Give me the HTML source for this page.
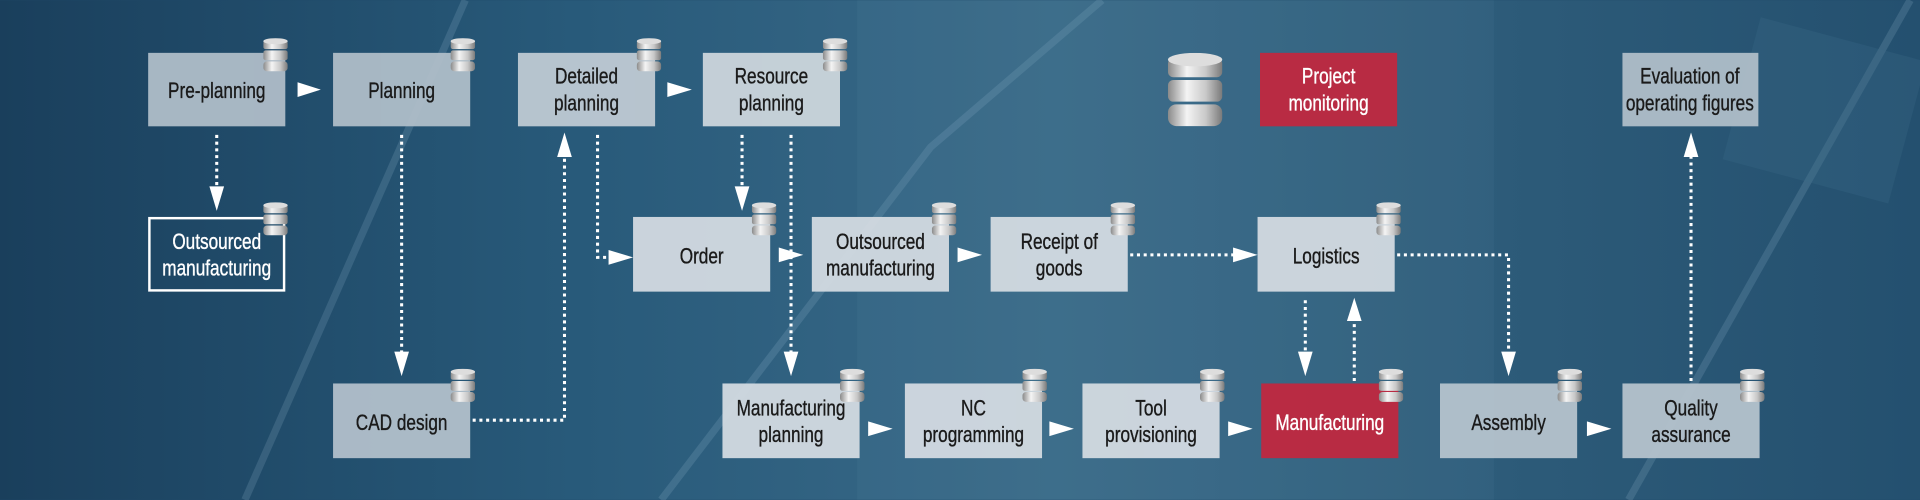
<!DOCTYPE html>
<html><head><meta charset="utf-8"><style>
html,body{margin:0;padding:0;width:1920px;height:500px;overflow:hidden;background:#1f4868}
svg{display:block}
text{font-family:"Liberation Sans",sans-serif;font-size:18px;text-anchor:middle;fill:#1a1a1a;stroke:#1a1a1a;stroke-width:0.3;transform-box:fill-box;transform-origin:center;transform:scaleX(0.78)}
text.w{fill:#fff;stroke:#fff}
</style></head><body>
<svg width="1920" height="500" viewBox="0 0 1568 408" xmlns="http://www.w3.org/2000/svg">
<defs>
<linearGradient id="bg" x1="0" y1="0" x2="1" y2="0">
<stop offset="0" stop-color="#1a3f5c"/><stop offset="0.3" stop-color="#285a7a"/>
<stop offset="0.55" stop-color="#3a6a88"/><stop offset="0.8" stop-color="#2c5a78"/><stop offset="1" stop-color="#24506f"/>
</linearGradient>
<linearGradient id="cyl" x1="0" y1="0" x2="1" y2="0">
<stop offset="0" stop-color="#8a8a8a"/><stop offset="0.35" stop-color="#f4f4f4"/><stop offset="0.7" stop-color="#c8c8c8"/><stop offset="1" stop-color="#7a7a7a"/>
</linearGradient>
<symbol id="db" viewBox="0 0 20 28">
<rect x="0" y="2" width="20" height="7" rx="2" fill="url(#cyl)"/>
<ellipse cx="10" cy="2.5" rx="10" ry="2.5" fill="#ddd"/>
<rect x="0" y="10" width="20" height="8" rx="2" fill="url(#cyl)"/>
<rect x="0" y="19" width="20" height="8" rx="3" fill="url(#cyl)"/>
</symbol>
</defs>
<rect width="1568" height="408" fill="url(#bg)"/>
<g opacity="0.18" fill="none" stroke="#9fc0d6" stroke-width="6">
<path d="M200 408 L380 0"/><path d="M540 408 L760 120 L900 0"/><path d="M1330 408 L1560 0"/>
</g>
<rect x="700" y="0" width="520" height="408" fill="#5a8aa6" opacity="0.12"/>
<rect x="1420" y="30" width="140" height="120" fill="#3a6a88" opacity="0.3" transform="rotate(15 1490 90)"/>

<g fill="#b2bfca" opacity="0.93">
<rect x="121" y="43" width="112" height="60"/><rect x="272" y="43" width="112" height="60"/>
<rect x="423" y="43" width="112" height="60" fill="#c2ccd5"/><rect x="574" y="43" width="112" height="60" fill="#d0d8de"/>
<rect x="1325" y="43" width="111" height="60"/>
</g>
<g fill="#d6dde3" opacity="0.93">
<rect x="517" y="177" width="112" height="61"/><rect x="663" y="177" width="112" height="61"/>
<rect x="809" y="177" width="112" height="61"/><rect x="1027" y="177" width="112" height="61"/>
<rect x="272" y="313" width="112" height="61" fill="#b5c2cc"/><rect x="590" y="313" width="112" height="61"/>
<rect x="739" y="313" width="112" height="61"/><rect x="884" y="313" width="112" height="61"/>
<rect x="1176" y="313" width="112" height="61" fill="#b8c5cf"/><rect x="1325" y="313" width="112" height="61" fill="#b8c5cf"/>
</g>
<rect x="122" y="178" width="110" height="59" fill="none" stroke="#fff" stroke-width="2"/>
<rect x="1029" y="43" width="112" height="60" fill="#c0283f" opacity="0.95"/>
<rect x="1030" y="313" width="112" height="61" fill="#c0283f" opacity="0.95"/>

<g fill="#fff">
<path d="M243 67 L262 73 L243 79Z"/><path d="M545 67 L565 73 L545 79Z"/>
<path d="M636 202 L656 208 L636 214Z"/><path d="M782 202 L802 208 L782 214Z"/>
<path d="M709 344 L729 350 L709 356Z"/><path d="M857 344 L877 350 L857 356Z"/>
<path d="M1003 344 L1023 350 L1003 356Z"/><path d="M1296 344 L1316 350 L1296 356Z"/>
<path d="M171 152 L177 172 L183 152Z"/><path d="M322 287 L328 307 L334 287Z"/>
<path d="M455 128 L461 108 L467 128Z"/><path d="M497 204 L517 210 L497 216Z"/>
<path d="M600 152 L606 172 L612 152Z"/><path d="M640 287 L646 307 L652 287Z"/>
<path d="M1007 202 L1027 208 L1007 214Z"/><path d="M1060 287 L1066 307 L1072 287Z"/>
<path d="M1100 262 L1106 243 L1112 262Z"/><path d="M1226 287 L1232 307 L1238 287Z"/>
<path d="M1375 128 L1381 108 L1387 128Z"/>
</g>
<g fill="none" stroke="#fff" stroke-width="2.5" stroke-dasharray="2.5 3">
<path d="M177 110 V153"/><path d="M328 110 V288"/>
<path d="M386 343 H461 V128"/><path d="M488 110 V210 H498"/>
<path d="M606 110 V153"/><path d="M646 110 V288"/>
<path d="M923 208 H1008"/><path d="M1066 245 V288"/><path d="M1106 311 V262"/>
<path d="M1141 208 H1232 V288"/><path d="M1381 311 V128"/>
</g>

<g>
<use href="#db" x="215" y="31" width="20" height="28"/><use href="#db" x="368" y="31" width="20" height="28"/>
<use href="#db" x="520" y="31" width="20" height="28"/><use href="#db" x="672" y="31" width="20" height="28"/>
<use href="#db" x="215" y="165" width="20" height="28"/><use href="#db" x="614" y="165" width="20" height="28"/>
<use href="#db" x="761" y="165" width="20" height="28"/><use href="#db" x="907" y="165" width="20" height="28"/>
<use href="#db" x="1124" y="165" width="20" height="28"/>
<use href="#db" x="368" y="301" width="20" height="28"/><use href="#db" x="686" y="301" width="20" height="28"/>
<use href="#db" x="835" y="301" width="20" height="28"/><use href="#db" x="980" y="301" width="20" height="28"/>
<use href="#db" x="1126" y="301" width="20" height="28"/><use href="#db" x="1272" y="301" width="20" height="28"/>
<use href="#db" x="1421" y="301" width="20" height="28"/>
<use href="#db" x="952" y="43" width="48" height="62"/>
</g>

<text x="177" y="80">Pre-planning</text>
<text x="328" y="80">Planning</text>
<text x="479" y="68">Detailed</text><text x="479" y="90">planning</text>
<text x="630" y="68">Resource</text><text x="630" y="90">planning</text>
<text class="w" x="1085" y="68">Project</text><text class="w" x="1085" y="90">monitoring</text>
<text x="1380" y="68">Evaluation of</text><text x="1380" y="90">operating figures</text>
<text class="w" x="177" y="203">Outsourced</text><text class="w" x="177" y="225">manufacturing</text>
<text x="573" y="215">Order</text>
<text x="719" y="203">Outsourced</text><text x="719" y="225">manufacturing</text>
<text x="865" y="203">Receipt of</text><text x="865" y="225">goods</text>
<text x="1083" y="215">Logistics</text>
<text x="328" y="351">CAD design</text>
<text x="646" y="339">Manufacturing</text><text x="646" y="361">planning</text>
<text x="795" y="339">NC</text><text x="795" y="361">programming</text>
<text x="940" y="339">Tool</text><text x="940" y="361">provisioning</text>
<text class="w" x="1086" y="351">Manufacturing</text>
<text x="1232" y="351">Assembly</text>
<text x="1381" y="339">Quality</text><text x="1381" y="361">assurance</text>
</svg>
</body></html>
